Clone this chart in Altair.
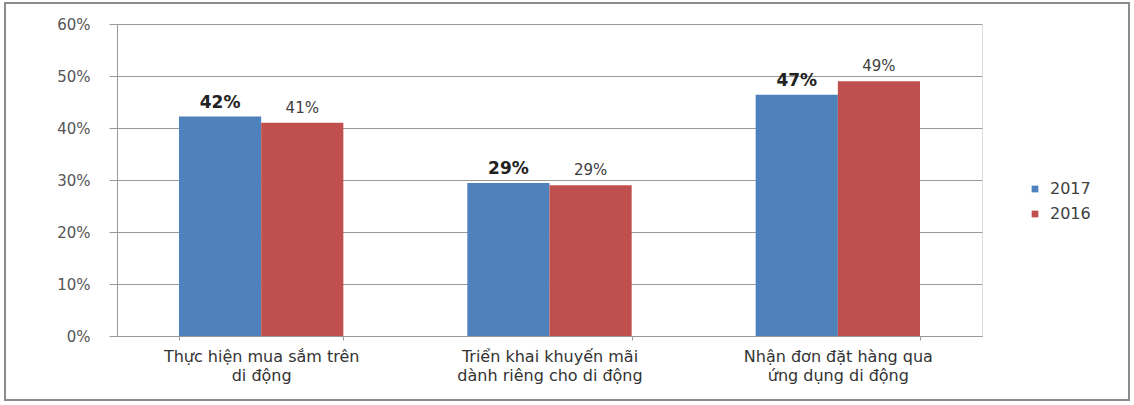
import altair as alt
import pandas as pd

categories = [
    "Thực hiện mua sắm trên\ndi động",
    "Triển khai khuyến mãi\ndành riêng cho di động",
    "Nhận đơn đặt hàng qua\nứng dụng di động",
]
years = ["2017", "2016"]
values_2017 = [42.2, 29.4, 46.4]
values_2016 = [41.0, 29.0, 49.0]
labels_2017 = ["42%", "29%", "47%"]
labels_2016 = ["41%", "29%", "49%"]

rows = []
for c, v, l in zip(categories, values_2017, labels_2017):
    rows.append({"cat": c, "year": "2017", "value": v, "label": l})
for c, v, l in zip(categories, values_2016, labels_2016):
    rows.append({"cat": c, "year": "2016", "value": v, "label": l})
df = pd.DataFrame(rows)

FONT = "DejaVu Sans"
colors = ["#4F81BD", "#C0504D"]

x = alt.X("cat:N", sort=categories, title=None,
          scale=alt.Scale(paddingInner=0.43, paddingOuter=0.215),
          axis=alt.Axis(labelAngle=0, labelExpr="split(datum.label, '\\n')",
                        labelFontSize=16, labelColor="#333333", labelFont=FONT,
                        labelLimit=400,
                        labelPadding=8, labelLineHeight=19, tickBand="extent",
                        tickSize=4, tickColor="#999999", domainColor="#999999",
                        grid=False))
y = alt.Y("value:Q", title=None,
          scale=alt.Scale(domain=[0, 60]),
          axis=alt.Axis(values=[0, 10, 20, 30, 40, 50, 60], labelExpr="datum.value + '%'",
                        labelFontSize=15, labelColor="#555555", labelFont=FONT,
                        tickSize=8, tickColor="#999999", domainColor="#999999",
                        gridColor="#9a9a9a", gridWidth=1, labelPadding=19))
xo = alt.XOffset("year:N", sort=years)

bars = alt.Chart(df).mark_bar().encode(
    x=x, y=y, xOffset=xo,
    color=alt.Color("year:N", sort=years, title=None,
                    scale=alt.Scale(domain=years, range=colors),
                    legend=alt.Legend(orient="none", legendX=910, legendY=157,
                                      symbolType="square", symbolSize=45,
                                      labelFontSize=16, labelFont=FONT,
                                      labelOffset=7,
                                      labelColor="#404040", rowPadding=9,
                                      symbolStrokeWidth=0)),
)

t17 = alt.Chart(df).transform_filter("datum.year == '2017'").mark_text(
    baseline="bottom", dy=-5, fontSize=17, fontWeight="bold", font=FONT, color="#222222"
).encode(x=x, y=y, xOffset=xo, text="label:N")

t16 = alt.Chart(df).transform_filter("datum.year == '2016'").mark_text(
    baseline="bottom", dy=-7, fontSize=15, font=FONT, color="#404040"
).encode(x=x, y=y, xOffset=xo, text="label:N")

border = alt.Chart(pd.DataFrame({"a": [0]})).mark_rect(
    fill=None, stroke="#8c8c8c", strokeWidth=2, clip=False
).encode(x=alt.value(-112), x2=alt.value(1012), y=alt.value(-21), y2=alt.value(376))

chart = alt.layer(border, bars, t17, t16).properties(
    width=865, height=312,
    autosize=alt.AutoSizeParams(type="none"),
    padding={"left": 117, "top": 24, "right": 152, "bottom": 69},
).configure_view(stroke=None).configure(background="white")

chart.save("out.html", embed_options={"renderer": "svg", "actions": False})
